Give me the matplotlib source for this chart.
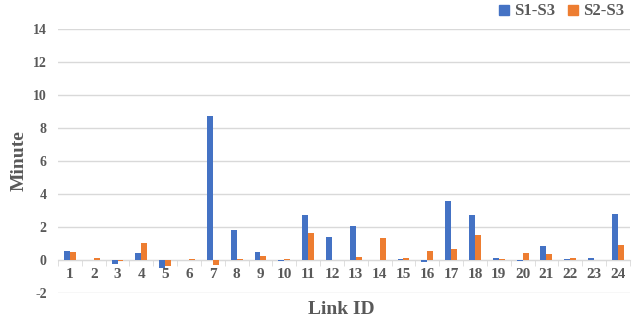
import numpy as np
import matplotlib
matplotlib.use("Agg")
import matplotlib.pyplot as plt
from matplotlib.lines import Line2D

link_ids = [str(i) for i in range(1, 25)]
s1_s3 = [0.57, 0.0, -0.22, 0.45, -0.48, 0.0, 8.75, 1.84, 0.46, -0.08, 2.75, 1.41,
         2.08, 0.0, 0.08, -0.14, 3.56, 2.75, 0.12, -0.08, 0.83, 0.08, 0.12, 2.81]
s2_s3 = [0.50, 0.12, -0.08, 1.03, -0.38, 0.08, -0.28, 0.08, 0.26, 0.08, 1.66, 0.0,
         0.20, 1.35, 0.12, 0.57, 0.69, 1.50, 0.08, 0.40, 0.34, 0.12, 0.0, 0.93]
y_ticks = [-2, 0, 2, 4, 6, 8, 10, 12, 14]

plt.rcParams['font.family'] = ['Liberation Serif', 'DejaVu Serif']
plt.rcParams['font.weight'] = 'bold'
text_color = "#595959"
blue = "#4472C4"
orange = "#ED7D31"

fig = plt.figure(figsize=(6.44, 3.22), dpi=100)
ax = fig.add_axes([0.09, 0.09, 0.888, 0.82])

x = np.arange(len(link_ids))
w = 0.25
ax.bar(x - w / 2, s1_s3, width=w, color=blue, zorder=3)
ax.bar(x + w / 2, s2_s3, width=w, color=orange, zorder=3)

ax.set_ylim(-2, 14)
ax.set_xlim(-0.5, len(link_ids) - 0.5)
ax.set_yticks(y_ticks)
ax.set_yticklabels([str(t) for t in y_ticks], fontsize=10, fontweight='bold', color=text_color)
ax.grid(axis='y', color="#D9D9D9", linewidth=1, zorder=0)

for s in ['top', 'right', 'left']:
    ax.spines[s].set_visible(False)
ax.spines['bottom'].set_position(('data', 0))
ax.spines['bottom'].set_color("#D9D9D9")
ax.spines['bottom'].set_zorder(2)

ax.set_xticks(x)
ax.set_xticklabels(link_ids, fontsize=11, fontweight='bold', color=text_color)
ax.set_xticks(np.arange(-0.5, len(link_ids)), minor=True)
ax.tick_params(axis='x', which='major', length=0, pad=6)
ax.tick_params(axis='x', which='minor', length=4, color="#D9D9D9")
ax.tick_params(axis='y', length=0, pad=8)

ax.set_ylabel("Minute", fontsize=14, fontweight='bold', color=text_color, labelpad=4)
fig.text(0.53, 0.04, "Link ID", ha='center', va='center', fontsize=14,
         fontweight='bold', color=text_color)

handles = [Line2D([], [], marker='s', linestyle='none', markersize=7, color=blue),
           Line2D([], [], marker='s', linestyle='none', markersize=7, color=orange)]
leg = fig.legend(handles, ["S1-S3", "S2-S3"], loc='upper right',
                 bbox_to_anchor=(0.975, 1.0), ncol=2, frameon=False,
                 fontsize=12, handlelength=0.6, handletextpad=0.3,
                 columnspacing=0.8, borderaxespad=0.0, borderpad=0.2)
for t in leg.get_texts():
    t.set_color(text_color)
    t.set_fontweight('bold')

fig.savefig("out.png", dpi=100)
